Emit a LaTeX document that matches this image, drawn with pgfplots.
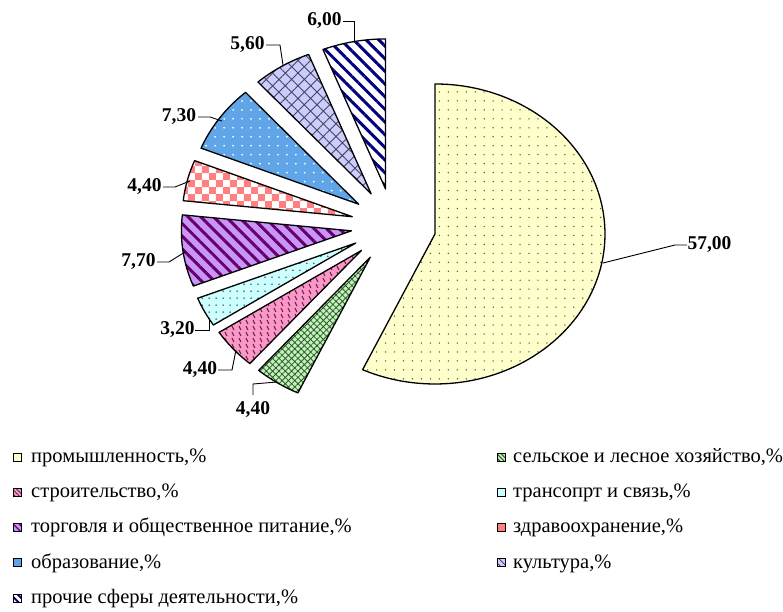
\documentclass[border=0pt]{standalone}
\usepackage{fontspec}
\setmainfont{Liberation Serif}
\usepackage{pgfplots}
\usepackage{pgfplotstable}
\pgfplotsset{compat=1.18}
\usetikzlibrary{patterns,patterns.meta}

\pgfdeclarepatternformonly{bigcheck}{\pgfpointorigin}{\pgfqpoint{14pt}{14pt}}{\pgfqpoint{14pt}{14pt}}{%
  \pgfpathrectangle{\pgfpointorigin}{\pgfqpoint{7pt}{7pt}}%
  \pgfpathrectangle{\pgfqpoint{7pt}{7pt}}{\pgfqpoint{7pt}{7pt}}%
  \pgfusepath{fill}}
\pgfdeclarepatternformonly{pinkdash}{\pgfpointorigin}{\pgfqpoint{7pt}{6pt}}{\pgfqpoint{7pt}{6pt}}{%
  \pgfsetlinewidth{1.1pt}%
  \pgfpathmoveto{\pgfqpoint{2pt}{5pt}}\pgfpathlineto{\pgfqpoint{4pt}{1pt}}%
  \pgfusepath{stroke}}

\definecolor{cYel}{RGB}{255,255,204}
\definecolor{cGrn}{RGB}{200,240,190}
\definecolor{cGrnP}{RGB}{40,95,40}
\definecolor{cPnk}{RGB}{255,150,200}
\definecolor{cPnkP}{RGB}{90,50,80}
\definecolor{cCyn}{RGB}{204,255,255}
\definecolor{cPur}{RGB}{200,150,250}
\definecolor{cPurP}{RGB}{102,0,102}
\definecolor{cSal}{RGB}{255,128,128}
\definecolor{cBlu}{RGB}{95,165,232}
\definecolor{cLav}{RGB}{204,204,255}
\definecolor{cLavP}{RGB}{70,70,90}
\definecolor{cNav}{RGB}{0,0,128}

\tikzset{
  slicebase/.style={draw=black, line width=1.3bp, line join=round},
  slice0/.style={slicebase, preaction={fill=cYel}, pattern={Dots[distance=9pt,radius=0.75pt]}, pattern color=black!70},
  slice1/.style={slicebase, preaction={fill=cGrn}, pattern={Hatch[angle=45,distance=4.5pt,line width=0.8pt]}, pattern color=cGrnP},
  slice2/.style={slicebase, preaction={fill=cPnk}, pattern=pinkdash, pattern color=cPnkP},
  slice3/.style={slicebase, preaction={fill=cCyn}, pattern={Dots[distance=7pt,radius=0.9pt]}, pattern color=black!65},
  slice4/.style={slicebase, preaction={fill=cPur}, pattern={Lines[angle=-45,distance=9pt,line width=3pt]}, pattern color=cPurP},
  slice5/.style={slicebase, preaction={fill=white}, pattern=bigcheck, pattern color=cSal},
  slice6/.style={slicebase, preaction={fill=cBlu}, pattern={Dots[distance=9pt,radius=1pt]}, pattern color=white},
  slice7/.style={slicebase, preaction={fill=cLav}, pattern={Hatch[angle=45,distance=9pt,line width=0.9pt]}, pattern color=cLavP},
  slice8/.style={slicebase, preaction={fill=white}, pattern={Lines[angle=-45,distance=9pt,line width=3pt]}, pattern color=cNav},
  legsq0/.style={draw=black, line width=1bp, fill=cYel},
  legsq1/.style={draw=black, line width=1bp, preaction={fill=cGrn}, pattern={Lines[angle=-45,distance=3pt,line width=1pt]}, pattern color=cGrnP},
  legsq2/.style={draw=black, line width=1bp, preaction={fill=cPnk}, pattern={Lines[angle=-45,distance=3pt,line width=1pt]}, pattern color=cPnkP},
  legsq3/.style={draw=black, line width=1bp, fill=cCyn},
  legsq4/.style={draw=black, line width=1bp, preaction={fill=cPur}, pattern={Lines[angle=-45,distance=4pt,line width=1.5pt]}, pattern color=cPurP},
  legsq5/.style={draw=black, line width=1bp, fill=cSal},
  legsq6/.style={draw=black, line width=1bp, fill=cBlu},
  legsq7/.style={draw=black, line width=1bp, preaction={fill=cLav}, pattern={Lines[angle=-45,distance=4pt,line width=1pt]}, pattern color=cLavP},
  legsq8/.style={draw=black, line width=1bp, preaction={fill=white}, pattern={Lines[angle=-45,distance=5pt,line width=2pt]}, pattern color=cNav},
  legtxt/.style={anchor=base west, inner sep=0pt, font=\fontsize{20.5bp}{24bp}\selectfont},
  vlab/.style={font=\bfseries\fontsize{19.5bp}{22bp}\selectfont, inner sep=0pt, anchor=center},
}

\pgfplotstableread{
share
57.0
4.4
4.4
3.2
7.7
4.4
7.3
5.6
6.0
}\piedata

\begin{document}
\begin{tikzpicture}
\begin{axis}[
  width=783bp, height=612bp, scale only axis,
  xmin=0, xmax=783, ymin=0, ymax=612, y dir=reverse,
  hide axis, clip=false,
]
\path (rel axis cs:0,0) rectangle (rel axis cs:1,1);
\def\cum{0}
\pgfplotsforeachungrouped \i in {0,...,8}{%
  \pgfplotstablegetelem{\i}{share}\of\piedata
  \let\v\pgfplotsretval
  \pgfmathsetmacro\aone{90-3.6*\cum}%
  \pgfmathsetmacro\atwo{90-3.6*(\cum+\v)}%
  \pgfmathsetmacro\amid{(\aone+\atwo)/2}%
  \pgfmathsetmacro\ax{393.5+42.5*cos(\amid)}%
  \pgfmathsetmacro\ay{225.8-37.5*sin(\amid)}%
  \edef\doslice{\noexpand\draw[slice\i] (axis cs:\ax,\ay) -- ++(\aone:170bp and 150bp) arc[start angle=\aone, end angle=\atwo, x radius=170bp, y radius=150bp] -- cycle;}%
  \doslice
  \pgfmathsetmacro\cum{\cum+\v}%
}
% leader lines
\addplot[black, line width=0.9bp, mark=none] coordinates {(603,263) (675,245) (687,245)};
\addplot[black, line width=0.9bp, mark=none] coordinates {(253,395) (253,384) (277,382)};
\addplot[black, line width=0.9bp, mark=none] coordinates {(218,370) (232,370) (236,350)};
\addplot[black, line width=0.9bp, mark=none] coordinates {(195,330) (209,330) (209,318)};
\addplot[black, line width=0.9bp, mark=none] coordinates {(157,262) (169,262) (185,252)};
\addplot[black, line width=0.9bp, mark=none] coordinates {(163,187) (175,187) (190,181)};
\addplot[black, line width=0.9bp, mark=none] coordinates {(198,117) (210,117) (222,121)};
\addplot[black, line width=0.9bp, mark=none] coordinates {(266,45) (280,45) (283,65)};
\addplot[black, line width=0.9bp, mark=none] coordinates {(343,21) (354,21) (354,41)};
% value labels
\node[vlab] at (axis cs:709.5,245) {57,00};
\node[vlab] at (axis cs:253,410) {4,40};
\node[vlab] at (axis cs:200,370) {4,40};
\node[vlab] at (axis cs:177.5,330) {3,20};
\node[vlab] at (axis cs:138.5,262) {7,70};
\node[vlab] at (axis cs:144.5,187) {4,40};
\node[vlab] at (axis cs:179,117) {7,30};
\node[vlab] at (axis cs:247.5,45) {5,60};
\node[vlab] at (axis cs:324.5,21) {6,00};
% legend
\draw[legsq0] (axis cs:13,453) rectangle (axis cs:21,461);
\node[legtxt] at (axis cs:31,462.5) {промышленность,\%};
\draw[legsq1] (axis cs:497,453) rectangle (axis cs:505,461);
\node[legtxt] at (axis cs:513,462.5) {сельское и лесное хозяйство,\%};
\draw[legsq2] (axis cs:13,488) rectangle (axis cs:21,496);
\node[legtxt] at (axis cs:31,497.5) {строительство,\%};
\draw[legsq3] (axis cs:497,488) rectangle (axis cs:505,496);
\node[legtxt] at (axis cs:513,497.5) {трансопрт и связь,\%};
\draw[legsq4] (axis cs:13,523) rectangle (axis cs:21,531);
\node[legtxt] at (axis cs:31,532.5) {торговля и общественное питание,\%};
\draw[legsq5] (axis cs:497,523) rectangle (axis cs:505,531);
\node[legtxt] at (axis cs:513,532.5) {здравоохранение,\%};
\draw[legsq6] (axis cs:13,558.5) rectangle (axis cs:21,566.5);
\node[legtxt] at (axis cs:31,568) {образование,\%};
\draw[legsq7] (axis cs:497,558.5) rectangle (axis cs:505,566.5);
\node[legtxt] at (axis cs:513,568) {культура,\%};
\draw[legsq8] (axis cs:13,594) rectangle (axis cs:21,602);
\node[legtxt] at (axis cs:31,603.5) {прочие сферы деятельности,\%};
\end{axis}
\end{tikzpicture}
\end{document}
